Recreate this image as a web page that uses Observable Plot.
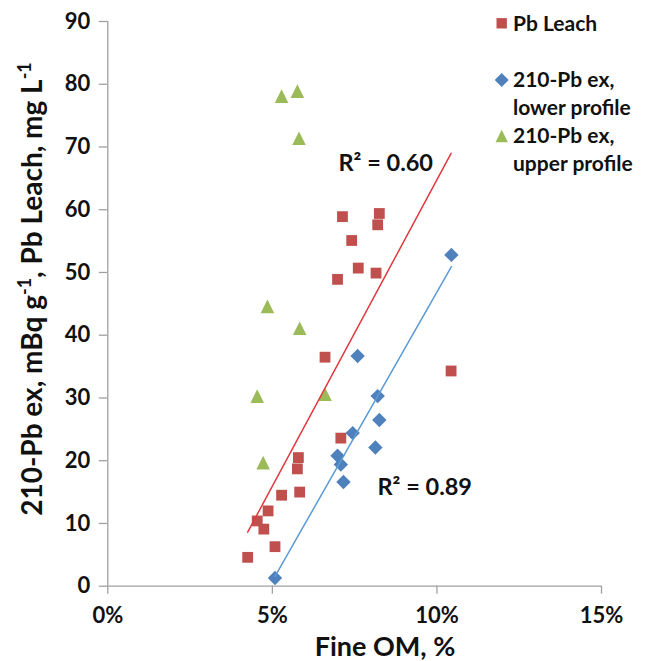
<!DOCTYPE html>
<html><head><meta charset="utf-8">
<script src="https://cdn.jsdelivr.net/npm/d3@7"></script>
<script src="https://cdn.jsdelivr.net/npm/@observablehq/plot@0.6"></script>
<style>body{margin:0;background:#fff;} #chart{width:657px;height:661px;}</style>
</head><body><div id="chart"></div>
<script>
// Tick values
const xTicks = [0, 0.05, 0.10, 0.15];
const yTicks = [0, 10, 20, 30, 40, 50, 60, 70, 80, 90];

// Pb Leach (red squares)
const pbLeachOM  = [0.0425, 0.0454, 0.0474, 0.0487, 0.0508, 0.0528, 0.0579, 0.0576, 0.0583, 0.0660, 0.0698, 0.0708, 0.0713, 0.0741, 0.0761, 0.0815, 0.0820, 0.0825, 0.1043];
const pbLeachVal = [4.6, 10.4, 9.1, 12.0, 6.3, 14.5, 20.5, 18.7, 15.0, 36.5, 48.9, 23.6, 58.9, 55.1, 50.7, 49.9, 57.6, 59.4, 34.3];

// 210-Pb ex, lower profile (blue diamonds)
const lowerOM  = [0.0759, 0.0820, 0.0825, 0.0744, 0.0813, 0.0698, 0.0708, 0.0716, 0.0508, 0.1044];
const lowerVal = [36.7, 30.3, 26.5, 24.4, 22.1, 20.8, 19.4, 16.6, 1.3, 52.8];

// 210-Pb ex, upper profile (green triangles)
const upperOM  = [0.0528, 0.0576, 0.0581, 0.0485, 0.0583, 0.0454, 0.0660, 0.0472];
const upperVal = [78.1, 78.9, 71.4, 44.6, 41.1, 30.3, 30.6, 19.7];

const r2Labels = ["R² = 0.60", "R² = 0.89"];

const seriesNames = ["Pb Leach", "210-Pb ex,\nlower profile", "210-Pb ex,\nupper profile"];
const seriesColors = ["#c0504d", "#4f81bd", "#9bbb59"];
const trendColors = ["#e0393e", "#5b9bd5"];

const toRows = (xs, ys) => xs.map((x, i) => ({x, y: ys[i]}));
const pbLeach = toRows(pbLeachOM, pbLeachVal);
const lower = toRows(lowerOM, lowerVal);
const upper = toRows(upperOM, upperVal);

// Excel-like marker shapes (r = half width)
const sqSym = {draw(ctx, size) { const r = Math.sqrt(size / Math.PI); ctx.moveTo(-r, -r); ctx.lineTo(r, -r); ctx.lineTo(r, r); ctx.lineTo(-r, r); ctx.closePath(); }};
const diaSym = {draw(ctx, size) { const r = Math.sqrt(size / Math.PI); ctx.moveTo(0, -r); ctx.lineTo(r, 0); ctx.lineTo(0, r); ctx.lineTo(-r, 0); ctx.closePath(); }};
const triSym = {draw(ctx, size) { const r = Math.sqrt(size / Math.PI); ctx.moveTo(0, -r); ctx.lineTo(r, r); ctx.lineTo(-r, r); ctx.closePath(); }};

const axisGray = "#a0a0a0";
const plot = Plot.plot({
  width: 657, height: 661,
  marginLeft: 107.3, marginRight: 56, marginTop: 21, marginBottom: 75.3,
  x: {domain: [0, 0.15]},
  y: {domain: [0, 90]},
  style: {fontFamily: "Lato", fontSize: "22px", fontWeight: "bold", background: "#fff", color: "#000"},
  marks: [
    Plot.ruleX([0], {stroke: axisGray, strokeWidth: 1.3}),
    Plot.ruleY([0], {stroke: axisGray, strokeWidth: 1.3}),
    Plot.axisX({ticks: xTicks, tickFormat: d3.format(".0%"), tickSize: 8, tickPadding: 13, stroke: axisGray, strokeWidth: 1.3, fill: "#111", label: null}),
    Plot.axisY({ticks: yTicks, tickSize: 8.5, tickPadding: 9, stroke: axisGray, strokeWidth: 1.3, fill: "#111", label: null}),
    Plot.dot(pbLeach, {x: "x", y: "y", symbol: sqSym, r: 5.4, fill: seriesColors[0]}),
    Plot.dot(lower, {x: "x", y: "y", symbol: diaSym, r: 7.2, fill: seriesColors[1]}),
    Plot.dot(upper, {x: "x", y: "y", symbol: triSym, r: 6.8, fill: seriesColors[2]}),
    Plot.linearRegressionY(pbLeach, {x: "x", y: "y", stroke: trendColors[0], strokeWidth: 1.5, ci: 0}),
    Plot.linearRegressionY(lower, {x: "x", y: "y", stroke: trendColors[1], strokeWidth: 1.5, ci: 0}),
    Plot.text([r2Labels[0]], {text: d => d, frameAnchor: "top-left", dx: 230.7, dy: 133.2, textAnchor: "start", fontSize: 23.5, fill: "#111"}),
    Plot.text([r2Labels[1]], {text: d => d, frameAnchor: "top-left", dx: 269.7, dy: 456.5, textAnchor: "start", fontSize: 23.5, fill: "#111"})
  ]
});

document.getElementById("chart").appendChild(plot);
const svg = d3.select(plot);

// Axis titles
svg.append("text")
  .attr("x", 385).attr("y", 656)
  .attr("text-anchor", "middle").attr("font-size", 27).attr("font-weight", "bold").attr("fill", "#111")
  .text("Fine OM, %");

const yt = svg.append("text")
  .attr("transform", "translate(42,289) rotate(-90)")
  .attr("text-anchor", "middle").attr("font-size", 28).attr("font-weight", "bold").attr("fill", "#111");
yt.append("tspan").text("210-Pb ex, mBq g");
yt.append("tspan").attr("dy", -11).attr("font-size", 18).text("-1");
yt.append("tspan").attr("dy", 11).text(", Pb Leach, mg L");
yt.append("tspan").attr("dy", -11).attr("font-size", 18).text("-1");

// Legend
const legendSyms = [sqSym, diaSym, triSym];
const legendR = [5.2, 7, 6.2];
const legendY = [23.3, 80, 136];
const lg = svg.append("g").attr("font-size", 21).attr("font-weight", "bold").attr("fill", "#111");
seriesNames.forEach((name, i) => {
  const p = d3.path();
  legendSyms[i].draw(p, Math.PI * legendR[i] * legendR[i]);
  lg.append("path").attr("transform", `translate(501.7,${legendY[i]})`).attr("d", p.toString()).attr("fill", seriesColors[i]);
  name.split("\n").forEach((line, j) => {
    lg.append("text").attr("x", 513).attr("y", legendY[i] + 7.3 + j * 27.5).attr("text-anchor", "start").text(line);
  });
});
</script>
</body></html>
